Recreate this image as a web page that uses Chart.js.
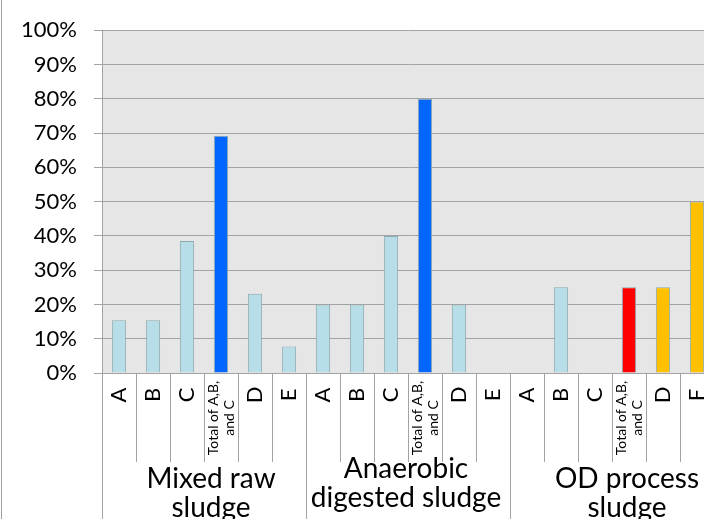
<!DOCTYPE html>
<html>
<head>
<meta charset="utf-8">
<script src="https://cdn.jsdelivr.net/npm/chart.js@4"></script>
<style>
  body { margin: 0; overflow: hidden; background: #fff; }
  #wrap { width: 716px; height: 519px; position: relative; }
</style>
</head>
<body>
<div id="wrap"><canvas id="myChart"></canvas></div>
<script>
// Data
const groupLabels = [["Mixed raw", "sludge"], ["Anaerobic", "digested sludge"], ["OD process", "sludge"]];
const subLabels = [
    "A", "B", "C", "Total of A,B,\nand C", "D", "E",
    "A", "B", "C", "Total of A,B,\nand C", "D", "E",
    "A", "B", "C", "Total of A,B,\nand C", "D", "F"
];
const mixedRaw = [15.4, 15.4, 38.5, 69.2, 23.1, 7.7];
const anaerobic = [20, 20, 40, 80, 20, 0];
const odProcess = [0, 25, 0, 25, 25, 50];
const yTicks = [0, 10, 20, 30, 40, 50, 60, 70, 80, 90, 100];

// Styles
const LIGHT = "#b7dee8";
const BLUE = "#0066ff";
const RED = "#ff0000";
const ORANGE = "#ffc000";
const barColors = [
    LIGHT, LIGHT, LIGHT, BLUE, LIGHT, LIGHT,
    LIGHT, LIGHT, LIGHT, BLUE, LIGHT, LIGHT,
    LIGHT, LIGHT, LIGHT, RED, ORANGE, ORANGE
];
const FONT = "Lato, 'Open Sans', sans-serif";
const GRID = "#a3a3a3";

const values = mixedRaw.concat(anaerobic, odProcess);
const groupSize = mixedRaw.length;

// background + category labels drawn under the axis
const chartDeco = {
    id: "chartDeco",
    beforeDraw(chart) {
        const { ctx, chartArea: a } = chart;
        ctx.save();
        ctx.fillStyle = "#fff";
        ctx.fillRect(0, 0, chart.width, chart.height);
        ctx.fillStyle = "#e6e6e6";
        ctx.fillRect(a.left, a.top, a.right - a.left, a.bottom - a.top);
        ctx.restore();
    },
    afterDraw(chart) {
        const { ctx, chartArea: a } = chart;
        const xs = chart.scales.x;
        const n = subLabels.length;
        const step = xs.width / n;
        ctx.save();

        // outer border on the left
        ctx.fillStyle = "#a0a0a0";
        ctx.fillRect(1, 0, 1, chart.height);

        // separators
        ctx.strokeStyle = GRID;
        ctx.lineWidth = 1;
        for (let i = 0; i <= n; i++) {
            const x = Math.round(xs.left + i * step) + 0.5;
            const end = i % groupSize === 0 ? chart.height : a.bottom + 89;
            ctx.beginPath();
            ctx.moveTo(x, a.bottom);
            ctx.lineTo(x, end);
            ctx.stroke();
        }

        // rotated category labels
        ctx.fillStyle = "#000";
        for (let i = 0; i < n; i++) {
            const x = xs.getPixelForValue(i);
            const lines = subLabels[i].split("\n");
            const multi = lines.length > 1;
            const lh = multi ? 16 : 24;
            ctx.save();
            ctx.translate(x, multi ? a.bottom + 45 : a.bottom + 22);
            ctx.rotate(-Math.PI / 2);
            ctx.font = (multi ? "14px " : "22px ") + FONT;
            ctx.textAlign = "center";
            ctx.textBaseline = "middle";
            lines.forEach((t, j) => {
                ctx.fillText(t, 0, (j - (lines.length - 1) / 2) * lh);
            });
            ctx.restore();
        }

        // group labels
        const nudge = [[7, 0], [-2, -10], [15, 0]];
        ctx.font = "28px " + FONT;
        ctx.textAlign = "center";
        ctx.textBaseline = "alphabetic";
        groupLabels.forEach((g, k) => {
            const x0 = xs.left + k * groupSize * step;
            const cx = x0 + groupSize * step / 2 + nudge[k][0];
            g.forEach((t, j) => {
                ctx.fillText(t, cx, a.bottom + 115 + nudge[k][1] + j * 29);
            });
        });
        ctx.restore();
    }
};

const myChart = document.getElementById("myChart").getContext("2d");

new Chart(myChart, {
    type: "bar",
    data: {
        labels: subLabels,
        datasets: [{
            data: values,
            backgroundColor: barColors,
            borderColor: "#8eaaae",
            borderWidth: (c) => (c.raw === 0 ? 0 : 1),
            barPercentage: 1,
            categoryPercentage: 0.42
        }]
    },
    options: {
        responsive: true,
        maintainAspectRatio: false,
        animation: false,
        layout: { padding: { top: 22, left: 0, right: 2, bottom: 0 } },
        plugins: {
            legend: { display: false },
            tooltip: { enabled: false }
        },
        scales: {
            x: {
                grid: { display: false },
                border: { display: true, color: GRID },
                ticks: { display: false },
                afterFit(scale) { scale.height = 146; }
            },
            y: {
                min: 0,
                max: 100,
                afterBuildTicks(scale) { scale.ticks = yTicks.map(v => ({ value: v })); },
                grid: { color: GRID, tickLength: 8, drawTicks: true },
                border: { color: GRID },
                ticks: {
                    padding: 17,
                    color: "#000",
                    font: { family: FONT, size: 22 },
                    callback: (v) => v + "%"
                },
                afterFit(scale) { scale.width = 102; }
            }
        }
    },
    plugins: [chartDeco]
});
</script>
</body>
</html>
